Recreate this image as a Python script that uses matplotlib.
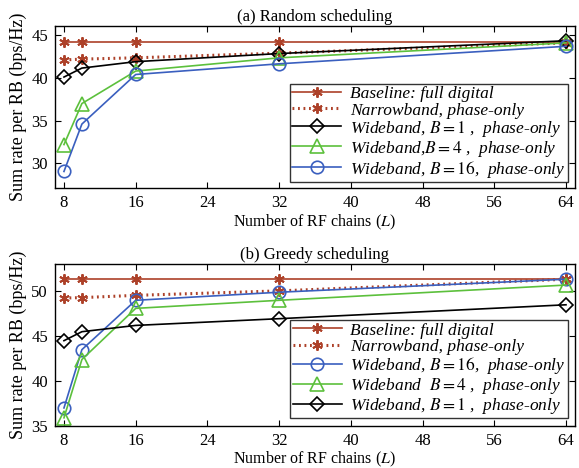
import matplotlib
matplotlib.use("Agg")
import matplotlib.pyplot as plt

plt.rcParams["font.family"] = "Liberation Serif"
plt.rcParams["mathtext.fontset"] = "stix"

RF_CHAINS = [8, 10, 16, 32, 64]

# (a) random scheduling
RAND_BASELINE = [44.2, 44.2, 44.2, 44.2, 44.2]
RAND_NARROW = [42.1, 42.2, 42.35, 42.9, 44.1]
RAND_WB1 = [40.1, 41.15, 41.9, 42.85, 44.35]
RAND_WB4 = [32.2, 37.0, 40.8, 42.35, 44.1]
RAND_WB16 = [29.05, 34.6, 40.4, 41.65, 43.7]

# (b) greedy scheduling
GREEDY_BASELINE = [51.4, 51.4, 51.4, 51.4, 51.4]
GREEDY_NARROW = [49.25, 49.3, 49.55, 50.05, 51.35]
GREEDY_WB16 = [37.0, 43.5, 49.0, 49.9, 51.35]
GREEDY_WB4 = [35.9, 42.4, 48.1, 49.0, 50.7]
GREEDY_WB1 = [44.5, 45.5, 46.2, 46.95, 48.5]

RED = "#ad4129"
GREEN = "#5cc03c"
BLUE = "#3a5fbf"
BLACK = "black"
ASTERISK = (6, 2, 0)

fig = plt.figure(figsize=(5.79, 4.68), dpi=100)
ax1 = fig.add_axes([0.095, 0.598, 0.898, 0.346])
ax2 = fig.add_axes([0.095, 0.090, 0.898, 0.345])


def draw_baseline(ax, y):
    ax.plot(RF_CHAINS, y, color=RED, lw=1.2, marker=ASTERISK, ms=7.5, mew=1.4,
            label="Baseline: full digital")


def draw_narrow(ax, y):
    ax.plot(RF_CHAINS, y, color=RED, lw=2.2, ls=(0, (0.6, 1.2)),
            marker=ASTERISK, ms=7.5, mew=1.4,
            label="Narrowband, phase-only")


def draw_wb(ax, y, color, marker, ms, label):
    ax.plot(RF_CHAINS, y, color=color, lw=1.2, marker=marker, ms=ms,
            mfc="none", mew=1.2, label=label)


draw_baseline(ax1, RAND_BASELINE)
draw_narrow(ax1, RAND_NARROW)
draw_wb(ax1, RAND_WB1, BLACK, "D", 7, r"Wideband, $B=1$ ,  phase-only")
draw_wb(ax1, RAND_WB4, GREEN, "^", 10, r"Wideband,$B=4$ ,  phase-only")
draw_wb(ax1, RAND_WB16, BLUE, "o", 9, r"Wideband, $B=16$,  phase-only")

draw_baseline(ax2, GREEDY_BASELINE)
draw_narrow(ax2, GREEDY_NARROW)
draw_wb(ax2, GREEDY_WB16, BLUE, "o", 9, r"Wideband, $B=16$,  phase-only")
draw_wb(ax2, GREEDY_WB4, GREEN, "^", 10, r"Wideband  $B=4$ ,  phase-only")
draw_wb(ax2, GREEDY_WB1, BLACK, "D", 7, r"Wideband, $B=1$ ,  phase-only")

for ax, title, ylim, yticks, anchor in [
    (ax1, "(a) Random scheduling", (27.1, 46.05), [30, 35, 40, 45], (0.986, 0.037)),
    (ax2, "(b) Greedy scheduling", (35, 53), [35, 40, 45, 50], (0.987, 0.047)),
]:
    ax.set_xlim(7.0, 65.0)
    ax.set_ylim(*ylim)
    ax.set_xticks(range(8, 65, 8))
    ax.set_yticks(yticks)
    ax.tick_params(direction="in", top=True, right=True, labelsize=12, length=4)
    ax.tick_params(axis="x", pad=5)
    ax.tick_params(axis="y", pad=5)
    ax.set_xlabel("Number of RF chains ($L$)", fontsize=11.5, labelpad=1)
    ax.set_ylabel("Sum rate per RB (bps/Hz)", fontsize=13, labelpad=3)
    ax.set_title(title, fontsize=12, pad=4)
    for s in ax.spines.values():
        s.set_linewidth(1.0)
    leg = ax.legend(loc="lower right", bbox_to_anchor=anchor,
                    prop={"family": "Liberation Serif", "style": "italic", "size": 12.5},
                    frameon=True, fancybox=False, edgecolor="black",
                    labelspacing=0.0, handlelength=2.8, borderpad=0.15,
                    handletextpad=0.5, borderaxespad=0)
    leg.get_frame().set_linewidth(1.0)

fig.savefig("out.png", dpi=100)
